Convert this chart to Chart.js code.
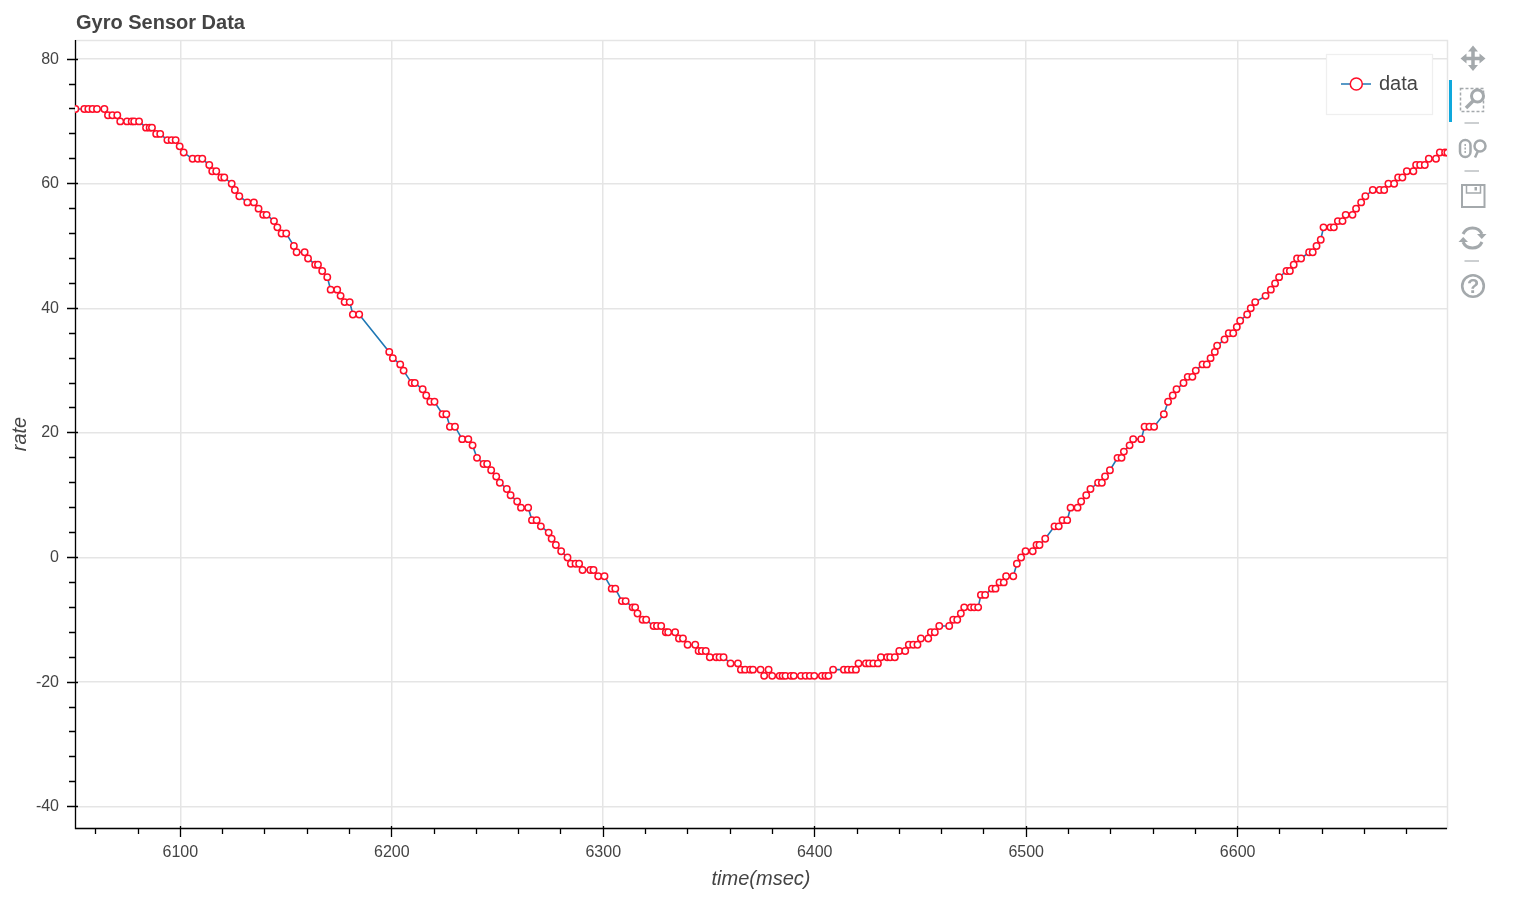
<!DOCTYPE html>
<html>
<head>
<meta charset="utf-8">
<title>Gyro Sensor Data</title>
<script src="https://cdn.jsdelivr.net/npm/chart.js@4"></script>
<style>
  html, body { margin: 0; padding: 0; background: #fff; overflow: hidden; }
  #wrap { position: relative; width: 1525px; height: 906px; }
  #myChart { position: absolute; left: 0; top: 0; }
  #tools { position: absolute; left: 0; top: 0; pointer-events: none; }
</style>
</head>
<body>
<div id="wrap">
  <canvas id="myChart" width="1525" height="906"></canvas>
  <svg id="tools" width="1525" height="906" fill="none" stroke="#a4a9ac" stroke-width="3">
    <!-- pan -->
    <path d="M1473 49V68M1463 58.500H1483" stroke-width="3.500" />
    <path d="M1473 45.500l-5 6h10zM1473 71l-5-6h10zM1460.500 58.500l6-5v10zM1485.500 58.500l-6-5v10z" fill="#a4a9ac" stroke="none" />
    <!-- active bar + box zoom -->
    <rect x="1449" y="80" width="3" height="42" fill="#0fa8dc" stroke="none" />
    <rect x="1460.500" y="88.500" width="23" height="23" stroke-width="1.500" stroke-dasharray="3 2" />
    <circle cx="1477.500" cy="96" r="6" fill="#fff" />
    <path d="M1473 101L1466 108" stroke-width="3.500" />
    <path d="M1464.500 123H1479M1464.500 171H1479M1464.500 261H1479" stroke="#cccfd1" stroke-width="2" />
    <!-- wheel zoom -->
    <rect x="1460" y="140" width="10.500" height="17" rx="5.200" stroke-width="2.500" />
    <path d="M1465.200 144V153" stroke-width="1.500" stroke-dasharray="2 1.500" />
    <circle cx="1480" cy="146" r="5.500" stroke-width="2.500" />
    <path d="M1478 151L1475 157.500" stroke-width="2.500" />
    <!-- save -->
    <rect x="1462" y="185" width="22.500" height="22" stroke-width="2" />
    <path d="M1466.500 185V193H1480.500V185" stroke-width="1.500" />
    <rect x="1474.500" y="187" width="2.500" height="3.500" fill="#a4a9ac" stroke="none" />
    <!-- reset -->
    <path d="M1463 234A10.500 10.500 0 0 1 1482 234M1482 242A10.500 10.500 0 0 1 1463 242" />
    <path d="M1477 234h9.500l-4.700 5zM1468 242h-9.500l4.700-5z" fill="#a4a9ac" stroke="none" />
    <!-- help -->
    <circle cx="1473" cy="286" r="10.800" stroke-width="2.600" />
    <text x="1473" y="293" text-anchor="middle" font-family="Liberation Sans" font-weight="bold" font-size="20" fill="#a4a9ac" stroke="none">?</text>
  </svg>
</div>
<script>
const times = [
  6050.4, 6054.6, 6056.5, 6058.5, 6060.6, 6064.1, 6065.8, 6067.9, 6070.2, 6071.6,
  6074.8, 6077.0, 6078.2, 6080.5, 6083.8, 6085.5, 6086.6, 6088.6, 6090.5, 6093.9,
  6095.9, 6097.8, 6099.7, 6101.6, 6105.8, 6108.3, 6110.4, 6113.7, 6115.1, 6117.0,
  6119.4, 6120.8, 6124.3, 6125.8, 6127.9, 6131.7, 6134.8, 6137.0, 6139.2, 6140.8,
  6144.3, 6145.9, 6147.9, 6150.1, 6153.7, 6155.0, 6158.8, 6160.4, 6163.8, 6165.1,
  6167.1, 6169.5, 6171.1, 6174.2, 6175.8, 6177.7, 6180.1, 6181.6, 6184.6,
  6198.8, 6200.5, 6204.0, 6205.6, 6209.4, 6210.9, 6214.6, 6216.3, 6218.2, 6220.2,
  6224.0, 6225.8, 6227.5, 6229.9, 6233.3, 6236.2, 6238.2, 6240.3, 6243.4, 6245.1,
  6247.0, 6249.4, 6251.1, 6254.4, 6256.2, 6259.3, 6261.1, 6264.5, 6266.3, 6268.5,
  6270.5, 6274.2, 6275.6, 6277.6, 6280.1, 6283.1, 6284.7, 6286.9, 6288.6, 6290.2,
  6293.9, 6295.4, 6297.6, 6300.6, 6304.0, 6305.7, 6308.8, 6310.6, 6313.9, 6315.1,
  6316.2, 6318.6, 6320.3, 6323.8, 6325.4, 6327.4, 6329.6, 6330.7, 6334.0, 6335.8,
  6337.7, 6339.9, 6343.5, 6345.1, 6346.6, 6348.5, 6350.4, 6353.4, 6355.0, 6356.9,
  6360.2, 6363.7, 6365.1, 6367.1, 6369.5, 6370.8, 6374.4, 6376.1, 6378.2, 6379.9,
  6383.4, 6384.8, 6386.2, 6388.7, 6390.1, 6393.5, 6395.7, 6397.7, 6399.8, 6403.4,
  6405.1, 6406.5, 6408.7, 6413.8, 6415.7, 6417.6, 6419.5, 6420.7, 6424.2, 6425.8,
  6427.7, 6429.9, 6431.3, 6434.3, 6435.7, 6437.9, 6440.0, 6442.8, 6444.5, 6446.6,
  6448.6, 6450.2, 6453.7, 6454.9, 6456.8, 6458.9, 6463.6, 6465.5, 6467.4, 6469.1,
  6470.7, 6473.8, 6475.4, 6477.3, 6478.6, 6480.6, 6483.8, 6485.5, 6487.4, 6489.4,
  6490.5, 6493.9, 6495.6, 6497.6, 6499.7, 6503.1, 6504.9, 6506.3, 6509.0, 6513.4,
  6515.4, 6517.2, 6519.4, 6521.0, 6524.3, 6526.0, 6528.4, 6530.4, 6534.0, 6535.8,
  6537.3, 6539.6, 6543.2, 6545.1, 6546.2, 6548.9, 6550.6, 6554.4, 6556.0, 6558.3,
  6560.5, 6565.1, 6567.1, 6569.3, 6571.1, 6574.4, 6576.4, 6578.6, 6580.2, 6583.4,
  6585.4, 6587.2, 6589.2, 6590.3, 6593.8, 6595.8, 6597.9, 6599.6, 6601.2, 6604.5,
  6606.2, 6608.3, 6613.2, 6615.7, 6617.7, 6619.6, 6623.1, 6624.7, 6626.5, 6628.1,
  6630.0, 6633.8, 6635.5, 6637.3, 6639.3, 6640.6, 6643.9, 6645.5, 6647.4, 6649.6,
  6651.1, 6654.3, 6656.0, 6658.4, 6660.4, 6663.9, 6667.2, 6669.3, 6671.3, 6674.0,
  6675.9, 6677.9, 6680.0, 6683.1, 6684.4, 6686.3, 6688.5, 6690.4, 6693.8, 6695.6,
  6698.1, 6699.2, 6699.4
];
const rates = [
  72, 72, 72, 72, 72, 72, 71, 71, 71, 70,
  70, 70, 70, 70, 69, 69, 69, 68, 68, 67,
  67, 67, 66, 65, 64, 64, 64, 63, 62, 62,
  61, 61, 60, 59, 58, 57, 57, 56, 55, 55,
  54, 53, 52, 52, 50, 49, 49, 48, 47, 47,
  46, 45, 43, 43, 42, 41, 41, 39, 39,
  33, 32, 31, 30, 28, 28, 27, 26, 25, 25,
  23, 23, 21, 21, 19, 19, 18, 16, 15, 15,
  14, 13, 12, 11, 10, 9, 8, 8, 6, 6,
  5, 4, 3, 2, 1, 0, -1, -1, -1, -2,
  -2, -2, -3, -3, -5, -5, -7, -7, -8, -8,
  -9, -10, -10, -11, -11, -11, -12, -12, -12, -13,
  -13, -14, -14, -15, -15, -15, -16, -16, -16, -16,
  -17, -17, -18, -18, -18, -18, -18, -19, -18, -19,
  -19, -19, -19, -19, -19, -19, -19, -19, -19, -19,
  -19, -19, -18, -18, -18, -18, -18, -17, -17, -17,
  -17, -17, -16, -16, -16, -16, -15, -15, -14, -14,
  -14, -13, -13, -12, -12, -11, -11, -10, -10, -9,
  -8, -8, -8, -8, -6, -6, -5, -5, -4, -4,
  -3, -3, -1, 0, 1, 1, 2, 2, 3, 5,
  5, 6, 6, 8, 8, 9, 10, 11, 12, 12,
  13, 14, 16, 16, 17, 18, 19, 19, 21, 21,
  21, 23, 25, 26, 27, 28, 29, 29, 30, 31,
  31, 32, 33, 34, 35, 36, 36, 37, 38, 39,
  40, 41, 42, 43, 44, 45, 46, 46, 47, 48,
  48, 49, 49, 50, 51, 53, 53, 53, 54, 54,
  55, 55, 56, 57, 58, 59, 59, 59, 60, 60,
  61, 61, 62, 62, 63, 63, 63, 64, 64, 65,
  65, 65, 66
];
const xMinorTicks = [6060, 6080, 6120, 6140, 6160, 6180, 6220, 6240, 6260, 6280, 6320, 6340, 6360, 6380, 6420, 6440, 6460, 6480, 6520, 6540, 6560, 6580, 6620, 6640, 6660, 6680];
const yMinorTicks = [-36, -32, -28, -24, -16, -12, -8, -4, 4, 8, 12, 16, 24, 28, 32, 36, 44, 48, 52, 56, 64, 68, 72, 76];

const textColor = '#444444';
const lineBlue = '#1f77b4';
const markerRed = '#ff0d27';

// axis ticks poke into the plot a bit and the minor ones only go outside, so they are drawn here
const bokehBits = {
  id: 'bokehBits',
  afterLayout(chart) {
    chart.titleBlock.left = chart.chartArea.left + 1;
  },
  beforeDatasetsDraw(chart) {
    const { ctx, chartArea: a, scales: { x, y } } = chart;
    ctx.save();
    ctx.strokeStyle = '#e5e5e5';
    ctx.lineWidth = 1.5;
    ctx.strokeRect(a.left + 0.5, a.top + 0.5, a.width, a.height);
    ctx.strokeStyle = '#000';
    ctx.lineWidth = 1.3;
    ctx.beginPath();
    ctx.moveTo(a.left + 0.5, a.top);
    ctx.lineTo(a.left + 0.5, a.bottom + 0.5);
    ctx.lineTo(a.right, a.bottom + 0.5);
    x.ticks.forEach(t => {
      const p = Math.floor(x.getPixelForValue(t.value)) + 0.5;
      ctx.moveTo(p, a.bottom - 2);
      ctx.lineTo(p, a.bottom + 9);
    });
    y.ticks.forEach(t => {
      const p = Math.floor(y.getPixelForValue(t.value)) + 0.5;
      ctx.moveTo(a.left + 3, p);
      ctx.lineTo(a.left - 8, p);
    });
    xMinorTicks.forEach(v => {
      const p = Math.floor(x.getPixelForValue(v)) + 0.5;
      ctx.moveTo(p, a.bottom);
      ctx.lineTo(p, a.bottom + 6);
    });
    yMinorTicks.forEach(v => {
      const p = Math.floor(y.getPixelForValue(v)) + 0.5;
      ctx.moveTo(a.left, p);
      ctx.lineTo(a.left - 6, p);
    });
    ctx.stroke();
    ctx.restore();
  },
  afterDatasetsDraw(chart) {
    const { ctx, chartArea: a } = chart;
    const ds = chart.data.datasets[0];
    const left = a.right - 121, top = a.top + 14;
    ctx.save();
    ctx.fillStyle = '#fff';
    ctx.strokeStyle = 'rgba(229,229,229,0.6)';
    ctx.lineWidth = 1.2;
    ctx.fillRect(left, top, 107, 60);
    ctx.strokeRect(left + 0.5, top + 0.5, 106, 60);
    ctx.strokeStyle = ds.borderColor;
    ctx.lineWidth = 1.5;
    ctx.beginPath();
    ctx.moveTo(left + 15, top + 30);
    ctx.lineTo(left + 45, top + 30);
    ctx.stroke();
    ctx.beginPath();
    ctx.arc(left + 30.3, top + 30, 6, 0, Math.PI * 2);
    ctx.fillStyle = '#fff';
    ctx.fill();
    ctx.strokeStyle = markerRed;
    ctx.lineWidth = 1.5;
    ctx.stroke();
    ctx.fillStyle = textColor;
    ctx.font = '20px "Liberation Sans"';
    ctx.textBaseline = 'middle';
    ctx.fillText(ds.label, left + 53, top + 30);
    ctx.restore();
  }
};

const ctx = document.getElementById('myChart');
new Chart(ctx, {
  type: 'line',
  data: {
    datasets: [{
      label: 'data',
      data: times.map((t, i) => ({ x: t, y: rates[i] })),
      borderColor: lineBlue,
      borderWidth: 1.6,
      tension: 0,
      fill: false,
      pointRadius: 3.2,
      pointBorderWidth: 1.5,
      pointBorderColor: markerRed,
      pointBackgroundColor: '#fff'
    }]
  },
  plugins: [bokehBits],
  options: {
    responsive: false,
    animation: false,
    devicePixelRatio: 1,
    layout: { padding: { right: 78 } },
    events: [],
    plugins: {
      legend: { display: false },
      tooltip: { enabled: false },
      title: {
        display: true,
        text: 'Gyro Sensor Data',
        align: 'start',
        fullSize: false,
        color: textColor,
        font: { family: 'Liberation Sans', size: 20, weight: 'bold', lineHeight: 1.2 },
        padding: { top: 11, bottom: 5 }
      }
    },
    scales: {
      x: {
        type: 'linear',
        min: 6050.2,
        max: 6699,
        afterFit(s) { s.height = 78; },
        border: { display: false },
        grid: { color: '#e5e5e5', lineWidth: 1.5, drawTicks: false },
        ticks: {
          stepSize: 100,
          includeBounds: false,
          maxRotation: 0,
          padding: 15,
          color: textColor,
          font: { family: 'Liberation Sans', size: 16 },
          callback: v => String(v)
        },
        title: {
          display: true,
          text: 'time(msec)',
          color: textColor,
          font: { family: 'Liberation Sans', size: 20, style: 'italic', lineHeight: 1.2 },
          padding: { top: 0, bottom: 15 }
        }
      },
      y: {
        type: 'linear',
        min: -43.42,
        max: 83.07,
        afterFit(s) { s.width = 75; },
        border: { display: false },
        grid: { color: '#e5e5e5', lineWidth: 1.5, drawTicks: false },
        ticks: {
          stepSize: 20,
          includeBounds: false,
          padding: 16,
          color: textColor,
          font: { family: 'Liberation Sans', size: 16 }
        },
        title: {
          display: true,
          text: 'rate',
          color: textColor,
          font: { family: 'Liberation Sans', size: 20, style: 'italic', lineHeight: 1.2 },
          padding: { top: 8, bottom: 0 }
        }
      }
    }
  }
});
</script>
</body>
</html>
